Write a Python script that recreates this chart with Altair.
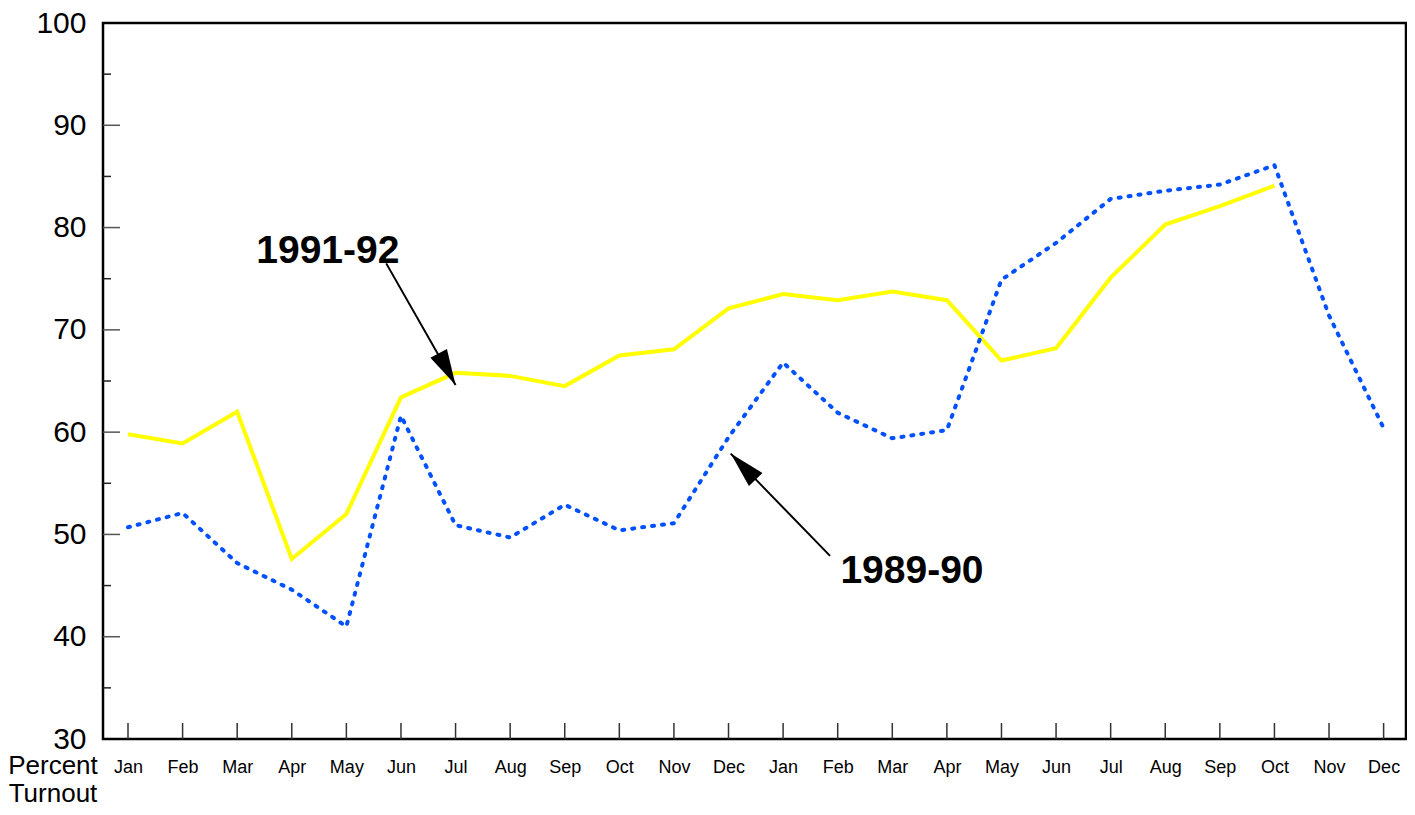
import altair as alt
import pandas as pd

months = ["Jan", "Feb", "Mar", "Apr", "May", "Jun", "Jul", "Aug", "Sep", "Oct", "Nov", "Dec"]
x_labels = months + months

turnout_1991_92 = [59.8, 58.9, 62.0, 47.6, 52.0, 63.4, 65.8, 65.5, 64.5, 67.5, 68.1, 72.1,
                   73.5, 72.9, 73.75, 72.9, 67.0, 68.2, 75.1, 80.3, 82.1, 84.1]
turnout_1989_90 = [50.7, 52.1, 47.2, 44.6, 41.0, 61.6, 50.9, 49.7, 52.9, 50.4, 51.1, 59.5,
                   66.8, 61.9, 59.4, 60.2, 74.9, 78.5, 82.8, 83.6, 84.2, 86.1, 71.4, 60.4]

y_major = [40, 50, 60, 70, 80, 90]
y_minor = [35, 45, 55, 65, 75, 85, 95]

# annotation labels and arrows (data units: month index, percent)
ann_labels = ["1991-92", "1989-90"]
ann_text_x = [3.66, 14.36]
ann_text_y = [77.75, 46.4]
arrow_x = [4.73, 12.86]
arrow_y = [76.5, 47.9]
arrow_x2 = [6.0, 11.04]
arrow_y2 = [64.6, 57.9]
arrow_angle = [152, 316]

FONT = "Liberation Sans"
W, H = 1303, 716

df_a = pd.DataFrame({"idx": list(range(len(turnout_1991_92))), "v": turnout_1991_92})
df_b = pd.DataFrame({"idx": list(range(len(turnout_1989_90))), "v": turnout_1989_90})
df_ann = pd.DataFrame({"label": ann_labels, "tx": ann_text_x, "ty": ann_text_y})
df_arrow = pd.DataFrame({"x": arrow_x, "y": arrow_y, "x2": arrow_x2, "y2": arrow_y2,
                         "angle": arrow_angle})
df_xt = pd.DataFrame({"idx": list(range(24))})
df_ymaj = pd.DataFrame({"v": y_major})
df_ymin = pd.DataFrame({"v": y_minor})
df_one = pd.DataFrame({"a": [0]})

label_expr = "[" + ",".join("'%s'" % m for m in x_labels) + "][datum.value]"

xscale = alt.Scale(domain=[-0.458, 23.41], nice=False, zero=False)
yscale = alt.Scale(domain=[30, 100], nice=False, zero=False)

xaxis = alt.Axis(values=list(range(24)), labelExpr=label_expr, title=None, grid=False,
                 ticks=False, tickSize=0, domain=False, labelPadding=19, labelFontSize=18,
                 labelFont=FONT, labelColor="black", labelAngle=0, labelBaseline="top")
yaxis = alt.Axis(values=[30, 40, 50, 60, 70, 80, 90, 100], title=None, grid=False,
                 ticks=False, tickSize=0, domain=False, labelPadding=17, labelFontSize=30,
                 labelFont=FONT, labelColor="black", labelBaseline="middle")


def X(field):
    return alt.X(field, type="quantitative", scale=xscale, axis=xaxis)


def Y(field):
    return alt.Y(field, type="quantitative", scale=yscale, axis=yaxis)


line_a = alt.Chart(df_a).mark_line(color="#FFFF00", strokeWidth=4).encode(x=X("idx"), y=Y("v"))
line_b = alt.Chart(df_b).mark_line(color="#0050FF", strokeWidth=4, strokeDash=[2, 8],
                                   strokeCap="round").encode(x=X("idx"), y=Y("v"))

xticks = alt.Chart(df_xt).mark_rule(color="#333333", strokeWidth=1.5).encode(
    x=X("idx"), y=alt.value(H - 16), y2=alt.value(H))
ymaj = alt.Chart(df_ymaj).mark_rule(color="#555555", strokeWidth=1.5).encode(
    y=Y("v"), x=alt.value(0), x2=alt.value(17))
ymin = alt.Chart(df_ymin).mark_rule(color="#222222", strokeWidth=1.5).encode(
    y=Y("v"), x=alt.value(0), x2=alt.value(8))

arrow_lines = alt.Chart(df_arrow).mark_rule(color="black", strokeWidth=2).encode(
    x=X("x"), y=Y("y"), x2="x2", y2="y2")
arrow_heads = alt.Chart(df_arrow).mark_point(
    shape="M0,0L-0.26,1L0.26,1Z", filled=True, color="black", opacity=1, size=5184
).encode(x=X("x2"), y=Y("y2"), angle=alt.Angle("angle:Q", scale=None))

ann_text = alt.Chart(df_ann).mark_text(font=FONT, fontSize=39, fontWeight="bold",
                                       color="black", align="center", baseline="middle").encode(
    x=X("tx"), y=Y("ty"), text="label:N")

ytitle = alt.Chart(df_one).mark_text(text=["Percent", "Turnout"], font=FONT, fontSize=26,
                                     color="black", align="center", baseline="middle",
                                     lineHeight=28).encode(
    x=alt.value(-50), y=alt.value(H + 27))

chart = alt.layer(line_a, line_b, xticks, ymaj, ymin, arrow_lines, arrow_heads, ann_text,
                  ytitle).properties(
    width=W, height=H,
    autosize=alt.AutoSizeParams(type="none"),
    padding={"left": 95, "top": 15, "right": 1, "bottom": 68},
    background="white",
).configure_view(stroke="black", strokeWidth=2.5)

chart.save("out.html", embed_options={"renderer": "svg", "actions": False})
